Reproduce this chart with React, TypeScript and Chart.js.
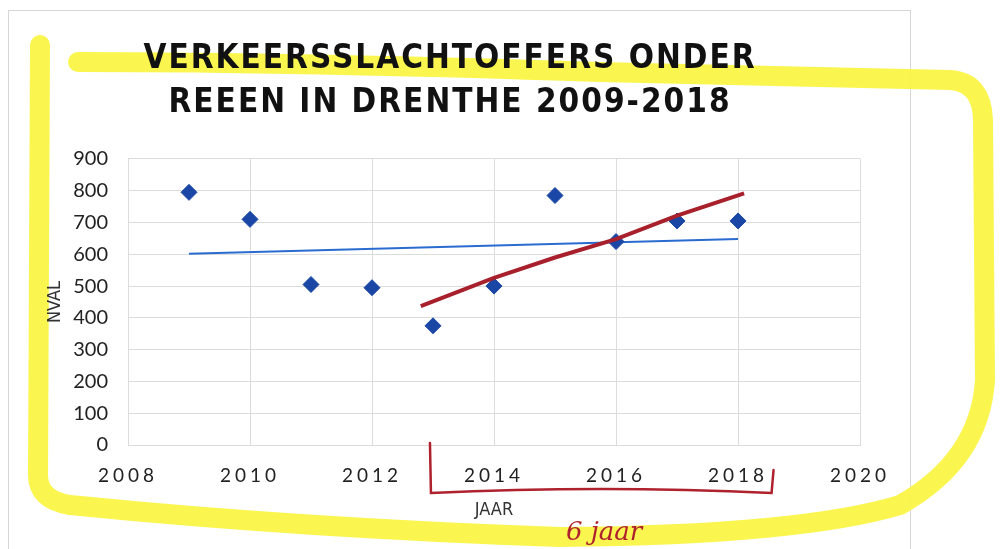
import React, { useEffect, useRef } from "react";
import { Chart, registerables } from "chart.js";

Chart.register(...registerables);

const years = [2009, 2010, 2011, 2012, 2013, 2014, 2015, 2016, 2017, 2018];
const victims = [795, 710, 505, 495, 375, 500, 785, 640, 705, 705];
const trendYears = [2009, 2018];
const trendValues = [602, 648];
const handTrendYears = [2012.8, 2014, 2015, 2016, 2017, 2018.1];
const handTrendValues = [437, 526, 590, 648, 722, 792];
const titleLines = ["VERKEERSSLACHTOFFERS ONDER", "REEEN IN DRENTHE 2009-2018"];
const xTitle = "JAAR";
const yTitle = "NVAL";
const noteText = "6 jaar";
const bracketFrom = 2012.95;
const bracketTo = 2018.55;

function spaced(obj: any, key: string, chart: any, spacing: string) {
  if (!obj || obj["__sp_" + key]) return;
  const orig = obj[key].bind(obj);
  obj[key] = (...args: any[]) => {
    const c = chart.ctx;
    c.save();
    (c as any).letterSpacing = spacing;
    orig(...args);
    c.restore();
  };
  obj["__sp_" + key] = true;
}

const decorPlugin = {
  id: "decor",
  beforeDraw(chart: any) {
    const ctx = chart.ctx;
    ctx.save();
    ctx.fillStyle = "#ffffff";
    ctx.fillRect(0, 0, chart.width, chart.height);
    // chart frame
    ctx.strokeStyle = "#d6d6d6";
    ctx.lineWidth = 1;
    ctx.strokeRect(8.5, 10.5, 902, 540);
    // yellow highlighter
    ctx.strokeStyle = "rgba(250,246,70,0.95)";
    ctx.lineCap = "round";
    ctx.lineJoin = "round";
    ctx.lineWidth = 20;
    ctx.beginPath();
    ctx.moveTo(40, 45);
    ctx.lineTo(38, 475);
    ctx.quadraticCurveTo(38, 500, 70, 505);
    ctx.quadraticCurveTo(300, 528, 560, 537);
    ctx.quadraticCurveTo(800, 535, 900, 505);
    ctx.quadraticCurveTo(980, 460, 985, 380);
    ctx.lineTo(983, 120);
    ctx.quadraticCurveTo(982, 82, 950, 80);
    ctx.lineTo(600, 72);
    ctx.quadraticCurveTo(300, 62, 78, 62);
    ctx.stroke();
    ctx.restore();

    spaced(chart.scales.x, "drawLabels", chart, "4px");
    spaced(chart.titleBlock, "draw", chart, "2px");
  },
  afterDraw(chart: any) {
    const ctx = chart.ctx;
    const xs = chart.scales.x;
    const ys = chart.scales.y;
    const x0 = xs.getPixelForValue(bracketFrom);
    const x1 = xs.getPixelForValue(bracketTo);
    const y0 = ys.getPixelForValue(0);
    ctx.save();
    ctx.strokeStyle = "#b0212e";
    ctx.lineWidth = 2.5;
    ctx.lineCap = "round";
    ctx.beginPath();
    ctx.moveTo(x0, y0 - 2);
    ctx.lineTo(x0 + 1, y0 + 48);
    ctx.quadraticCurveTo((x0 + x1) / 2, y0 + 40, x1, y0 + 48);
    ctx.lineTo(x1 + 2, y0 + 25);
    ctx.stroke();
    ctx.fillStyle = "#b0212e";
    ctx.font = "italic 26px 'DejaVu Serif'";
    ctx.textAlign = "left";
    ctx.textBaseline = "alphabetic";
    ctx.fillText(noteText, 566, 540);
    ctx.restore();
  },
};

export default function App() {
  const ref = useRef<HTMLCanvasElement>(null);
  useEffect(() => {
    if (!ref.current) return;
    const chart = new Chart(ref.current, {
      type: "scatter",
      data: {
        datasets: [
          {
            label: "Aantal",
            data: years.map((y, i) => ({ x: y, y: victims[i] })),
            pointStyle: "rectRot",
            pointRadius: 8,
            pointHoverRadius: 8,
            backgroundColor: "#1a47a5",
            borderColor: "#1a47a5",
            showLine: false,
            order: 2,
          },
          {
            label: "Trend",
            data: trendYears.map((y, i) => ({ x: y, y: trendValues[i] })),
            showLine: true,
            borderColor: "#2a6bd0",
            borderWidth: 2,
            pointRadius: 0,
            order: 3,
          },
          {
            label: "Hand",
            data: handTrendYears.map((y, i) => ({ x: y, y: handTrendValues[i] })),
            showLine: true,
            borderColor: "#a8202c",
            borderWidth: 4,
            tension: 0,
            pointRadius: 0,
            order: 1,
          },
        ],
      },
      options: {
        animation: false,
        responsive: false,
        layout: { padding: { left: 40, right: 140, top: 0, bottom: 18 } },
        plugins: {
          legend: { display: false },
          tooltip: { enabled: false },
          title: {
            display: true,
            text: titleLines,
            color: "#111111",
            font: { family: "'DejaVu Sans Condensed', sans-serif", size: 33, weight: "bold", lineHeight: 1.333 },
            padding: { top: 37, bottom: 34 },
          },
        },
        scales: {
          x: {
            type: "linear",
            min: 2008,
            max: 2020,
            afterFit: (s: any) => { s.height = 86; },
            ticks: {
              stepSize: 2,
              color: "#222222",
              padding: 19,
              font: { family: "Lato, 'Open Sans', sans-serif", size: 19 },
              callback: (v: any) => String(v),
            },
            grid: { color: "#dcdcdc", drawTicks: false },
            border: { color: "#dcdcdc" },
            title: {
              display: true,
              text: xTitle,
              color: "#333333",
              font: { family: "'DejaVu Sans Condensed', sans-serif", size: 18 },
              padding: { top: 0, bottom: 10 },
            },
          },
          y: {
            min: 0,
            max: 900,
            afterFit: (s: any) => { s.width = 88; },
            ticks: {
              stepSize: 100,
              color: "#222222",
              padding: 20,
              font: { family: "Lato, 'Open Sans', sans-serif", size: 20 },
            },
            grid: { color: "#dcdcdc", drawTicks: false },
            border: { color: "#dcdcdc" },
            title: {
              display: true,
              text: yTitle,
              color: "#333333",
              font: { family: "'DejaVu Sans Condensed', sans-serif", size: 18 },
              padding: { top: 5, bottom: 0 },
            },
          },
        },
      },
      plugins: [decorPlugin],
    });
    chart.draw();
    return () => chart.destroy();
  }, []);
  return (
    <div style={{ position: "fixed", left: 0, top: 0, width: 1000, height: 549 }}>
      <canvas ref={ref} width={1000} height={549} style={{ width: 1000, height: 549, display: "block" }} />
    </div>
  );
}
